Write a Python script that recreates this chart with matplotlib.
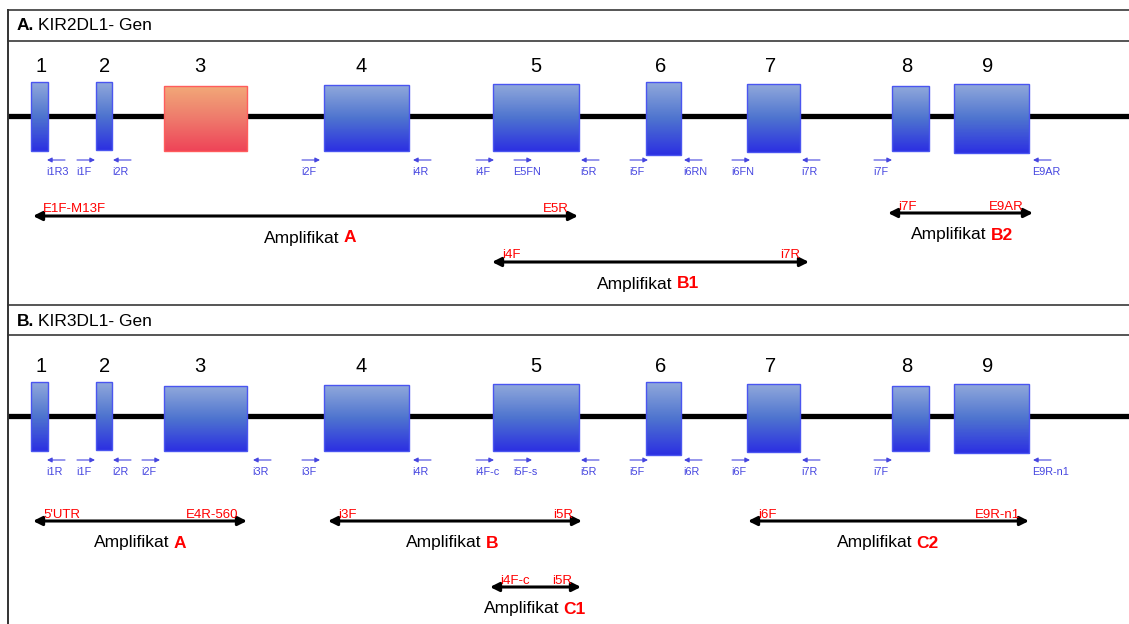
import numpy as np
import matplotlib
matplotlib.use("Agg")
import matplotlib.pyplot as plt
from matplotlib.colors import LinearSegmentedColormap
from matplotlib.patches import Rectangle

plt.rcParams['font.family'] = ['Liberation Sans', 'DejaVu Sans']

# exons (same layout in both genes), x in diagram units, y relative to section
exon_nums = ['1', '2', '3', '4', '5', '6', '7', '8', '9']
exon_x0 = [31, 96, 164, 324, 493, 646, 747, 892, 954]
exon_x1 = [48, 112, 247, 409, 579, 681, 800, 929, 1029]
exon_top = [82, 82, 86, 85, 84, 82, 84, 86, 84]
exon_bot = [151, 150, 151, 151, 151, 155, 152, 151, 153]
num_x = [41, 105, 200, 361, 536, 661, 771, 907, 988]

# section A: KIR2DL1
primers_a = ['i1R3', 'i1F', 'i2R', 'i2F', 'i4R', 'i4F', 'E5FN', 'i5R', 'i5F',
             'i6RN', 'i6FN', 'i7R', 'i7F', 'E9AR']
primers_a_x = [47, 77, 113, 302, 413, 476, 514, 581, 630, 684, 732, 802, 874, 1033]
primers_a_dir = ['R', 'F', 'R', 'F', 'R', 'F', 'F', 'R', 'F', 'R', 'F', 'R', 'F', 'R']

amp_a_names = ['A', 'B1', 'B2']
amp_a_x0 = [33, 492, 888]
amp_a_x1 = [578, 809, 1033]
amp_a_y = [216, 262, 213]
amp_a_left = ['E1F-M13F', 'i4F', 'i7F']
amp_a_right = ['E5R', 'i7R', 'E9AR']
amp_a_cx = [310, 648, 962]

# section B: KIR3DL1
primers_b = ['i1R', 'i1F', 'i2R', 'i2F', 'i3R', 'i3F', 'i4R', 'i4F-c', 'i5F-s',
             'i5R', 'i5F', 'i6R', 'i6F', 'i7R', 'i7F', 'E9R-n1']
primers_b_x = [47, 77, 113, 142, 253, 302, 413, 476, 514, 581, 630, 684, 732,
               802, 874, 1033]
primers_b_dir = ['R', 'F', 'R', 'F', 'R', 'F', 'R', 'F', 'F', 'R', 'F', 'R', 'F',
                 'R', 'F', 'R']

amp_b_names = ['A', 'B', 'C1', 'C2']
amp_b_x0 = [33, 328, 490, 748]
amp_b_x1 = [247, 582, 581, 1029]
amp_b_y = [521, 521, 587, 521]
amp_b_left = ["5'UTR", 'i3F', 'i4F-c', 'i6F']
amp_b_right = ['E4R-560', 'i5R', 'i5R', 'E9R-n1']
amp_b_cx = [140, 452, 535, 888]

blue_cm = LinearSegmentedColormap.from_list('blu', ['#90a8db', '#4e74cf', '#2c30e2'])
red_cm = LinearSegmentedColormap.from_list('red', ['#f2a878', '#ee7a6c', '#ef4458'])
primer_col = '#4646e0'

fig = plt.figure(figsize=(11.29, 6.24), dpi=100)
ax = fig.add_axes([0, 0, 1, 1])
grad = np.linspace(0, 1, 100).reshape(-1, 1)


def amp_label(cx, y, name):
    r = fig.canvas.get_renderer()
    t1 = ax.text(0, y, 'Amplifikat', fontsize=12.5, va='center', ha='left')
    t2 = ax.text(0, y, name, fontsize=12.5, va='center', ha='left',
                 color='red', fontweight='bold')
    w1 = t1.get_window_extent(r).width + 4
    w2 = t2.get_window_extent(r).width
    inv = ax.transData.inverted()
    x0 = inv.transform((ax.transData.transform((cx, y))[0] - (w1 + w2) / 2, 0))[0]
    x1 = inv.transform((ax.transData.transform((x0, y))[0] + w1, 0))[0]
    t1.set_x(x0)
    t2.set_x(x1)


def draw_section(off, title_letter, title, red_exon, primers, px, pdir,
                 names, x0s, x1s, ys, lefts, rights, cxs, title_y):
    # title
    r = fig.canvas.get_renderer()
    tt = ax.text(17, title_y, title_letter, fontsize=12.5, fontweight='bold', va='center')
    w = tt.get_window_extent(r).width
    ax.text(17 + w + 4, title_y, title, fontsize=12.5, va='center')

    # gene backbone
    ax.plot([8, 1129], [116 + off, 116 + off], color='black', lw=3.8,
            solid_capstyle='butt', zorder=1)

    for i in range(len(exon_nums)):
        cm = red_cm if i == red_exon else blue_cm
        ec = '#ff5c5c' if i == red_exon else '#4a55f0'
        ax.imshow(grad, cmap=cm, aspect='auto', interpolation='bilinear',
                  extent=(exon_x0[i], exon_x1[i], exon_bot[i] + off, exon_top[i] + off),
                  zorder=2)
        ax.add_patch(Rectangle((exon_x0[i], exon_top[i] + off),
                               exon_x1[i] - exon_x0[i], exon_bot[i] - exon_top[i],
                               fill=False, edgecolor=ec, lw=1, zorder=3))
        ax.text(num_x[i], 67 + off, exon_nums[i], fontsize=14.5, ha='center', va='center')

    for name, x, d in zip(primers, px, pdir):
        if d == 'F':
            tail, head = x, x + 18
        else:
            tail, head = x + 18, x
        ax.annotate('', xy=(head, 160 + off), xytext=(tail, 160 + off),
                    arrowprops=dict(arrowstyle='-|>', color=primer_col, lw=0.8,
                                    mutation_scale=7, shrinkA=0, shrinkB=0))
        ax.text(x - 1, 172 + off, name, fontsize=7.8, color=primer_col,
                ha='left', va='center')

    for n, a, b, y, lp, rp, cx in zip(names, x0s, x1s, ys, lefts, rights, cxs):
        ax.annotate('', xy=(b, y), xytext=(a, y),
                    arrowprops=dict(arrowstyle='<|-|>', color='black', lw=2.2,
                                    mutation_scale=13, shrinkA=0, shrinkB=0))
        ax.text(a + 10, y - 3.5, lp, fontsize=9.5, color='red', ha='left', va='baseline')
        ax.text(b - 9, y - 3.5, rp, fontsize=9.5, color='red', ha='right', va='baseline')
        amp_label(cx, y + 22, n)


ax.set_xlim(0, 1129)
ax.set_ylim(624, 0)
ax.axis('off')

# frame
for yy in [10, 41, 305, 335]:
    ax.plot([8, 1129], [yy, yy], color='#555555', lw=1.4, zorder=4)
ax.plot([8, 8], [10, 624], color='#333333', lw=1.4, zorder=4)

draw_section(0, 'A.', 'KIR2DL1- Gen', 2, primers_a, primers_a_x, primers_a_dir,
             amp_a_names, amp_a_x0, amp_a_x1, amp_a_y, amp_a_left, amp_a_right,
             amp_a_cx, 26)
draw_section(300, 'B.', 'KIR3DL1- Gen', -1, primers_b, primers_b_x, primers_b_dir,
             amp_b_names, amp_b_x0, amp_b_x1, amp_b_y,
             amp_b_left, amp_b_right, amp_b_cx, 321)

ax.set_xlim(0, 1129)
ax.set_ylim(624, 0)
fig.savefig('out.png', dpi=100)
